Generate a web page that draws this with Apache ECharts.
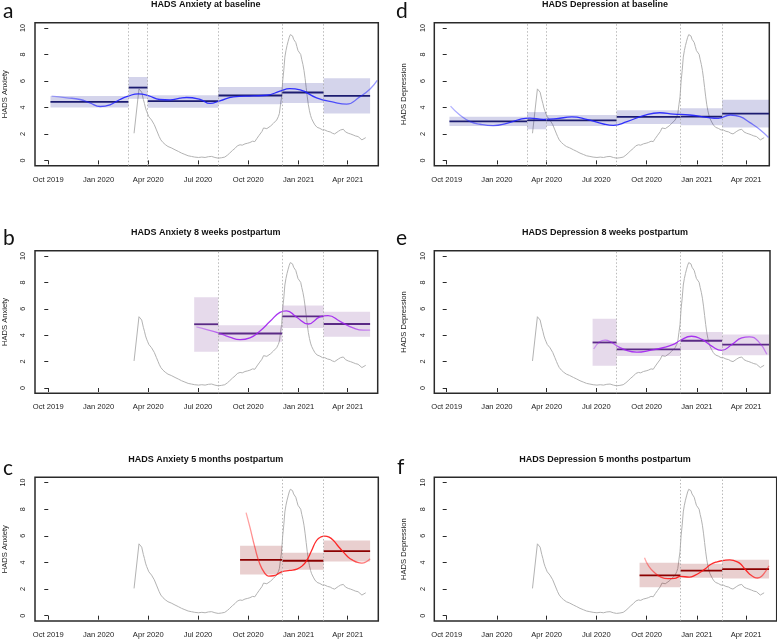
<!DOCTYPE html>
<html><head><meta charset="utf-8">
<script src="https://cdn.jsdelivr.net/npm/echarts@6/dist/echarts.min.js"></script>
<style>html,body{margin:0;padding:0;background:#fff}#c{width:777px;height:641px}</style>
</head><body><div id="c"></div><script>
// ---------- data (x = days since 1 Oct 2019) ----------
const quarterTicks = [0, 92, 183, 274, 366, 458, 548];
const quarterLabels = ['Oct 2019','Jan 2020','Apr 2020','Jul 2020','Oct 2020','Jan 2021','Apr 2021'];
const yTicks = [0, 2, 4, 6, 8, 10];

const covidCurve = [[157,2.05],[166,5.4],[168,5.3],[171,5.15],[174,4.6],[176,4.3],[178,3.95],[180,3.7],[182,3.5],[184,3.3],[186,3.25],[189,3.05],[191,3.1],[194,2.7],[196,2.55],[198,2.3],[201,2.0],[203,1.8],[206,1.55],[210,1.35],[214,1.2],[219,1.05],[225,0.95],[232,0.8],[238,0.68],[244,0.55],[250,0.45],[256,0.35],[262,0.3],[268,0.25],[275,0.22],[281,0.25],[287,0.22],[293,0.28],[299,0.3],[305,0.22],[311,0.17],[317,0.2],[323,0.25],[328,0.4],[332,0.55],[337,0.75],[342,0.92],[346,1.1],[351,1.18],[355,1.15],[360,1.25],[365,1.3],[369,1.35],[374,1.45],[378,1.42],[382,1.67],[386,1.9],[391,2.18],[394,2.45],[397,2.55],[400,2.4],[403,2.42],[407,2.6],[412,2.8],[415,2.9],[418,3.05],[421,3.3],[423,3.55],[425,4.2],[427,4.8],[429,6.0],[431,6.8],[433,7.8],[435,8.3],[437,8.68],[439,9.0],[441,9.3],[443,9.5],[445,9.65],[447,9.4],[449,9.15],[451,9.2],[453,8.9],[455,8.6],[457,8.3],[460,8.15],[462,8.0],[464,7.6],[466,7.25],[468,6.8],[470,6.2],[472,5.5],[474,4.8],[476,4.2],[478,3.75],[480,3.4],[482,3.15],[485,2.9],[488,2.68],[492,2.5],[497,2.42],[502,2.3],[506,2.3],[511,2.2],[516,2.15],[520,2.05],[524,2.0],[527,2.15],[531,2.2],[535,2.3],[540,2.35],[544,2.15],[549,2.05],[553,2.0],[558,1.92],[562,1.85],[567,1.8],[570,1.7],[574,1.55],[577,1.65],[581,1.72]];

const boundsBaseline = [147, 182, 311, 428, 504];
const bounds8w = [311, 428, 504];
const bounds5m = [428, 504];

// bands: [start, end, lower, upper, mean]
const anxBaseBands = [[4,147,4.0,4.87,4.42],[147,182,4.65,6.3,5.5],[182,311,3.97,4.92,4.47],[311,428,4.25,5.55,4.9],[428,504,4.33,5.85,5.13],[504,589,3.55,6.2,4.87]];
const depBaseBands = [[5,147,2.6,3.3,2.95],[147,182,2.35,3.65,3.03],[182,311,2.6,3.43,3.03],[311,428,2.75,3.78,3.28],[428,504,2.65,3.93,3.3],[504,590,2.48,4.58,3.53]];
const anx8wBands = [[267,311,2.75,6.88,4.83],[311,428,3.5,4.75,4.13],[428,504,4.55,6.25,5.43],[504,589,3.88,5.78,4.85]];
const dep8wBands = [[267,311,1.68,5.25,3.45],[311,428,2.43,3.43,2.93],[428,504,2.88,4.25,3.58],[504,590,2.48,4.05,3.28]];
const anx5mBands = [[351,428,3.1,5.25,4.2],[428,504,3.45,4.73,4.13],[504,589,4.08,5.65,4.85]];
const dep5mBands = [[353,428,2.13,3.98,3.03],[428,504,2.85,3.9,3.38],[504,590,2.8,4.2,3.5]];

// smooth trends
const anxBaseTrend = [[6,4.85],[34,4.73],[58,4.6],[76,4.35],[95,4.07],[113,4.2],[131,4.6],[146,4.85],[165,5.03],[183,4.9],[204,4.6],[223,4.57],[241,4.7],[253,4.75],[278,4.6],[296,4.3],[314,4.5],[339,4.8],[375,4.87],[400,4.92],[424,5.23],[442,5.42],[461,5.32],[491,4.73],[522,4.4],[546,4.25],[570,4.8],[589,5.4],[602,6.05]];
const depBaseTrend = [[7,4.1],[24,3.43],[43,2.93],[61,2.73],[85,2.63],[110,2.8],[134,3.1],[152,3.2],[177,3.1],[201,3.15],[229,3.28],[256,3.1],[287,2.75],[305,2.65],[330,2.93],[360,3.38],[390,3.6],[415,3.5],[445,3.43],[476,3.25],[497,3.18],[519,3.43],[537,3.3],[555,2.85],[574,2.3],[589,1.73]];
const anx8wTrend = [[271,4.63],[290,4.43],[311,4.18],[332,3.85],[351,3.66],[369,3.8],[387,4.3],[406,5.05],[424,5.73],[436,5.85],[454,5.38],[476,4.85],[497,5.38],[512,5.48],[534,5.05],[558,4.55],[577,4.38],[589,4.38]];
const dep8wTrend = [[269,2.95],[280,3.5],[290,3.62],[300,3.5],[311,3.2],[329,2.85],[348,2.72],[372,2.85],[396,3.05],[415,3.3],[427,3.6],[448,3.92],[467,3.68],[485,3.17],[503,2.85],[522,3.3],[540,3.8],[554,3.88],[570,3.55],[586,2.55]];
const anx5mTrend = [[362,7.75],[369,6.65],[378,5.15],[387,3.9],[396,3.2],[403,2.98],[412,3.0],[427,3.3],[442,3.4],[455,3.5],[465,3.75],[473,4.15],[482,4.9],[491,5.65],[499,5.92],[506,5.98],[514,5.9],[522,5.65],[531,5.2],[540,4.78],[549,4.4],[558,4.15],[566,4.0],[574,3.95],[582,4.05],[589,4.28]];
const dep5mTrend = [[362,4.35],[370,3.7],[380,3.25],[392,2.9],[405,2.78],[417,2.8],[428,2.95],[444,2.9],[455,3.05],[465,3.28],[474,3.55],[483,3.85],[495,4.05],[507,4.15],[518,4.2],[527,4.12],[536,3.95],[545,3.55],[555,3.1],[563,2.88],[569,2.83],[576,2.95],[584,3.35],[590,3.75]];

// ---------- styling / layout ----------
const FONT = 'Liberation Sans, Arial, sans-serif';
const schemes = {
  blue:   {band:'rgba(0,0,139,0.17)',   mean:'#1c1c70', rgb:'30,30,255'},
  purple: {band:'rgba(104,34,139,0.17)', mean:'#5a2a85', rgb:'160,32,240'},
  red:    {band:'rgba(139,0,0,0.19)',    mean:'#8b0000', rgb:'255,20,20'}
};
const panels = [
  {letter:'a', title:'HADS Anxiety at baseline', yname:'HADS Anxiety', grid:[35,22.7,343.3,143], xr:[-24.3,604], tcx:205.7, tcy:4.5, lx:3, ly:11, bands:anxBaseBands, trend:anxBaseTrend, bounds:boundsBaseline, sc:'blue'},
  {letter:'b', title:'HADS Anxiety 8 weeks postpartum', yname:'HADS Anxiety', grid:[35,250.7,342.7,142.6], xr:[-24.3,602.9], tcx:205.7, tcy:232.3, lx:3, ly:238, bands:anx8wBands, trend:anx8wTrend, bounds:bounds8w, sc:'purple'},
  {letter:'c', title:'HADS Anxiety 5 months postpartum', yname:'HADS Anxiety', grid:[35,477.3,343.3,143.7], xr:[-24.3,604], tcx:205.7, tcy:459.3, lx:3, ly:468, bands:anx5mBands, trend:anx5mTrend, bounds:bounds5m, sc:'red'},
  {letter:'d', title:'HADS Depression at baseline', yname:'HADS Depression', grid:[434.3,22.7,335,143], xr:[-22.7,590.4], tcx:605, tcy:4.5, lx:396, ly:11, bands:depBaseBands, trend:depBaseTrend, bounds:boundsBaseline, sc:'blue'},
  {letter:'e', title:'HADS Depression 8 weeks postpartum', yname:'HADS Depression', grid:[434.3,250.7,335.7,142.6], xr:[-22.7,591.7], tcx:605, tcy:232.3, lx:396, ly:238, bands:dep8wBands, trend:dep8wTrend, bounds:bounds8w, sc:'purple'},
  {letter:'f', title:'HADS Depression 5 months postpartum', yname:'HADS Depression', grid:[434.3,477.3,342.4,143.7], xr:[-22.7,604], tcx:605, tcy:459.3, lx:397, ly:467, bands:dep5mBands, trend:dep5mTrend, bounds:bounds5m, sc:'red'}
];

function grad(rgb){
  return {type:'linear',x:0,y:0,x2:1,y2:0,colorStops:[
    {offset:0,color:`rgba(${rgb},0.3)`},{offset:0.22,color:`rgba(${rgb},0.9)`},
    {offset:0.8,color:`rgba(${rgb},0.9)`},{offset:1,color:`rgba(${rgb},0.4)`}]};
}

const grids=[], xAxes=[], yAxes=[], series=[], graphics=[];
panels.forEach((p,i)=>{
  const s = schemes[p.sc];
  grids.push({left:p.grid[0], top:p.grid[1], width:p.grid[2], height:p.grid[3], show:true, borderColor:'#2a2a2a', borderWidth:1.5, backgroundColor:'transparent'});
  xAxes.push({type:'value', gridIndex:i, min:p.xr[0], max:p.xr[1], splitLine:{show:false},
    axisLine:{show:false},
    axisTick:{show:true, inside:false, length:4, customValues:quarterTicks, lineStyle:{color:'#2a2a2a', width:1}},
    axisLabel:{show:true, customValues:quarterTicks, margin:10, fontSize:7.6, fontFamily:FONT, color:'#222',
      formatter:v=>{const k=quarterTicks.indexOf(Math.round(v)); return k>=0?quarterLabels[k]:'';}}});
  yAxes.push({type:'value', gridIndex:i, min:-0.4, max:10.4, splitLine:{show:false},
    axisLine:{show:false},
    axisTick:{show:true, inside:false, length:4, customValues:yTicks, lineStyle:{color:'#2a2a2a', width:1}},
    axisLabel:{show:true, customValues:yTicks, rotate:90, margin:8, fontSize:7.2, fontFamily:FONT, color:'#222'},
    name:p.yname, nameLocation:'middle', nameGap:26, nameTextStyle:{fontSize:7.6, fontFamily:FONT, color:'#222'}});
  series.push({type:'line', xAxisIndex:i, yAxisIndex:i, data:covidCurve, showSymbol:false, symbol:'none',
    lineStyle:{color:'#b3b3b3', width:1}, z:2, silent:true,
    markLine:{silent:true, symbol:'none', label:{show:false}, animation:false,
      lineStyle:{type:[1.5,2], color:'#a8a8a8', width:0.8},
      data:p.bounds.map(v=>({xAxis:v}))}});
  series.push({type:'custom', xAxisIndex:i, yAxisIndex:i, data:p.bands, encode:{x:[0,1], y:[2,3,4]}, z:3, silent:true,
    renderItem:(params, api)=>{
      const x0=api.value(0), x1=api.value(1), lo=api.value(2), hi=api.value(3), m=api.value(4);
      const a=api.coord([x0,hi]), b=api.coord([x1,lo]), m0=api.coord([x0,m]), m1=api.coord([x1,m]);
      return {type:'group', children:[
        {type:'rect', shape:{x:a[0], y:a[1], width:b[0]-a[0], height:b[1]-a[1]}, style:{fill:s.band}},
        {type:'line', shape:{x1:m0[0], y1:m0[1], x2:m1[0], y2:m1[1]}, style:{stroke:s.mean, lineWidth:1.8}}
      ]};
    }});
  series.push({type:'line', xAxisIndex:i, yAxisIndex:i, data:p.trend, smooth:0.5, showSymbol:false, symbol:'none',
    lineStyle:{color:grad(s.rgb), width:1.3}, z:4, silent:true, clip:true});
  graphics.push({type:'text', x:p.tcx, y:p.tcy, style:{text:p.title, font:'bold 9px '+FONT, fill:'#111', textAlign:'center', textVerticalAlign:'middle'}});
  graphics.push({type:'text', x:p.lx, y:p.ly, style:{text:p.letter, font:'21px Lato, "Open Sans", sans-serif', fill:'#111', textAlign:'left', textVerticalAlign:'middle'}});
});

const chart = echarts.init(document.getElementById('c'), null, {renderer:'canvas'});
chart.setOption({animation:false, backgroundColor:'#fff', grid:grids, xAxis:xAxes, yAxis:yAxes, series:series, graphic:graphics});
</script></body></html>
